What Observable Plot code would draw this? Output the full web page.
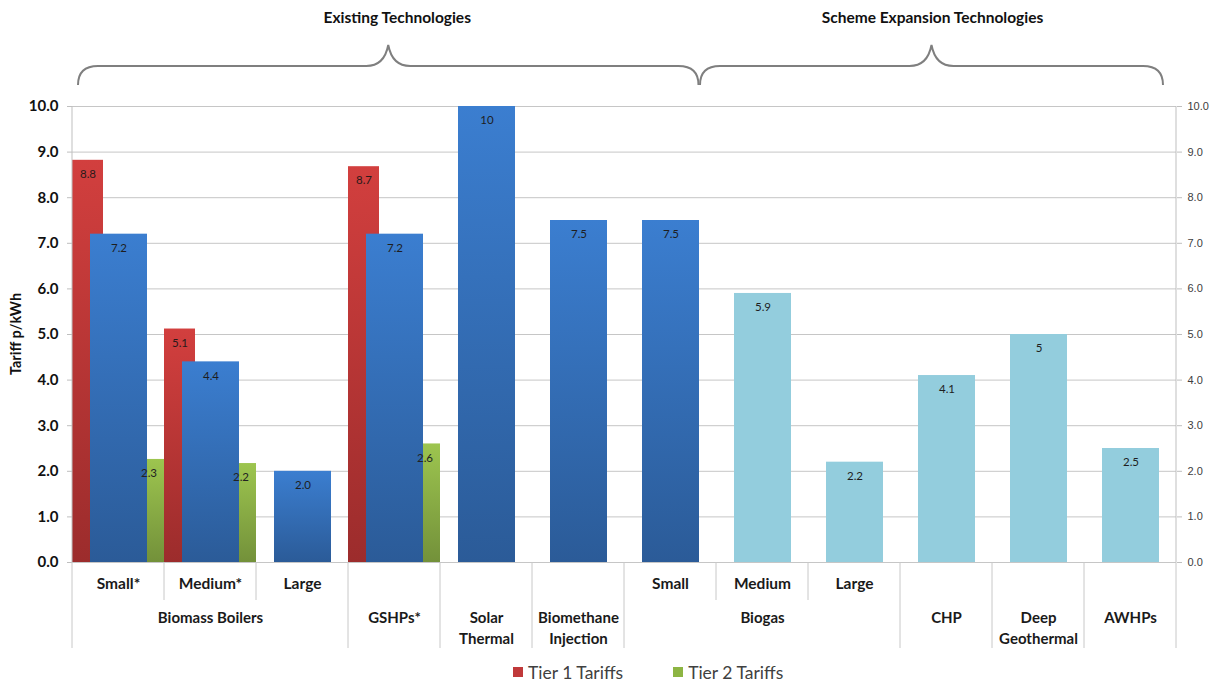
<!DOCTYPE html>
<html><head><meta charset="utf-8">
<script src="https://cdn.jsdelivr.net/npm/d3@7"></script>
<script src="https://cdn.jsdelivr.net/npm/@observablehq/plot@0.6"></script>
<style>
html,body{margin:0;padding:0;background:#fff;}
#wrap{position:relative;width:1215px;height:682px;font-family:Lato,"Open Sans",sans-serif;overflow:hidden;}
#legend{position:absolute;top:660px;left:513px;height:24px;display:flex;gap:50px;font-size:17.5px;color:#404040;}
.li{display:flex;align-items:center;}
.sw{width:10px;height:10px;margin-right:5px;}
</style></head><body>
<div id="wrap"><div id="chart"></div><div id="legend"></div></div>
<script>
const categories = ["Small*","Medium*","Large","GSHPs*","Solar Thermal","Biomethane Injection","Small","Medium","Large","CHP","Deep Geothermal","AWHPs"];
const subLabels = ["Small*","Medium*","Large","","","","Small","Medium","Large","","",""];
const groups = ["Biomass Boilers","Biomass Boilers","Biomass Boilers","GSHPs*","Solar\nThermal","Biomethane\nInjection","Biogas","Biogas","Biogas","CHP","Deep\nGeothermal","AWHPs"];
const schemes = ["existing","existing","existing","existing","existing","existing","existing","expansion","expansion","expansion","expansion","expansion"];
const tariffs = [7.2, 4.4, 2.0, 7.2, 10, 7.5, 7.5, 5.9, 2.2, 4.1, 5, 2.5];
const tariffLabels = ["7.2","4.4","2.0","7.2","10","7.5","7.5","5.9","2.2","4.1","5","2.5"];
const tier1 = [8.82, 5.12, null, 8.68, null, null, null, null, null, null, null, null];
const tier1Labels = ["8.8","5.1","","8.7","","","","","","","",""];
const tier2 = [2.26, 2.17, null, 2.6, null, null, null, null, null, null, null, null];
const tier2Labels = ["2.3","2.2","","2.6","","","","","","","",""];
const yTicks = [0,1,2,3,4,5,6,7,8,9,10];
const groupTitles = ["Existing Technologies","Scheme Expansion Technologies"];
const legendItems = [["Tier 1 Tariffs","#c0393a"],["Tier 2 Tariffs","#8db543"]];

const rows = categories.map((c,i)=>({i, cat:c, sub:subLabels[i], group:groups[i], scheme:schemes[i],
  tariff:tariffs[i], tariffLabel:tariffLabels[i], tier1:tier1[i], tier1Label:tier1Labels[i], tier2:tier2[i], tier2Label:tier2Labels[i]}));

// group label rows (placed at middle category of each group)
const groupRows = [];
{
  let start = 0;
  for (let i = 1; i <= groups.length; i++) {
    if (i === groups.length || groups[i] !== groups[start]) {
      const mid = start + Math.floor((i - start) / 2);
      groupRows.push({i: mid, label: groups[start], start, end: i});
      start = i;
    }
  }
}

const W = 1215, H = 655;
const font = "Lato, 'Open Sans', sans-serif";
const plot = Plot.plot({
  width: W, height: H,
  marginTop: 106, marginBottom: H - 562, marginLeft: 72, marginRight: W - 1176,
  style: {fontFamily: font, background: "#fff", overflow: "visible"},
  x: {domain: d3.range(categories.length), padding: 0, axis: null},
  y: {domain: [0, 10], axis: null},
  marks: [
    Plot.gridY(yTicks, {stroke: "#c6c6c6", strokeOpacity: 1}),
    Plot.barY(rows.filter(d => d.tier1 != null), {x: "i", y: "tier1", fill: "url(#gRed)", insetLeft: 0, insetRight: 61}),
    Plot.barY(rows.filter(d => d.tier2 != null), {x: "i", y: "tier2", fill: "url(#gGreen)", insetLeft: 61, insetRight: 0}),
    Plot.barY(rows.filter(d => d.scheme === "existing"), {x: "i", y: "tariff", fill: "url(#gBlue)", insetLeft: 18, insetRight: 17}),
    Plot.barY(rows.filter(d => d.scheme === "expansion"), {x: "i", y: "tariff", fill: "#93cddd", insetLeft: 18, insetRight: 17}),
    Plot.text(rows.filter(d => d.tier1 != null), {x: "i", y: "tier1", text: "tier1Label", dy: 14, dx: -30.5, fontSize: 11.5, fill: "#2a1a1a"}),
    Plot.text(rows.filter(d => d.tier2 != null), {x: "i", y: "tier2", text: "tier2Label", dy: 14, dx: 30.5, fontSize: 11.5, fill: "#222"}),
    Plot.text(rows, {x: "i", y: "tariff", text: "tariffLabel", dy: 14, dx: 0.5, fontSize: 11.5, fill: "#1e1e1e"}),
    Plot.axisY(yTicks, {anchor: "left", tickSize: 5, tickPadding: 9, tickFormat: d3.format(".1f"), fontSize: 15, fontWeight: "bold", label: null, stroke: "#bfbfbf", fill: "#111"}),
    Plot.axisY(yTicks, {anchor: "right", tickSize: 5, tickPadding: 6, tickFormat: d3.format(".1f"), fontSize: 11, label: null, stroke: "#bfbfbf", fill: "#404040", fontFamily: "'Liberation Sans', sans-serif"}),
    Plot.text(rows.filter(d => d.sub), {x: "i", text: "sub", frameAnchor: "bottom", dy: 26, fontSize: 15.5, fontWeight: "bold", fill: "#1a1a1a"}),
    Plot.text(groupRows, {x: "i", text: "label", frameAnchor: "bottom", lineAnchor: "top", dy: 46, lineHeight: 1.38, fontSize: 15, fontWeight: "bold", fill: "#1a1a1a"})
  ]
});
document.getElementById("chart").appendChild(plot);

const svg = d3.select(plot);
const defs = svg.insert("defs", ":first-child");
function grad(id, top, bottom) {
  const g = defs.append("linearGradient").attr("id", id).attr("x1", 0).attr("y1", 0).attr("x2", 0).attr("y2", 1);
  g.append("stop").attr("offset", "0%").attr("stop-color", top);
  g.append("stop").attr("offset", "100%").attr("stop-color", bottom);
}
grad("gBlue", "#3b7ed0", "#2b5b98");
grad("gRed", "#d23f3e", "#9c2c2c");
grad("gGreen", "#9dc54f", "#73913a");

const xs = plot.scale("x"), ys = plot.scale("y");
const bw = xs.bandwidth;
const y0 = ys.apply(0), yTop = ys.apply(10);
const xL = xs.apply(0), xR = xs.apply(categories.length - 1) + bw;

// axis lines
svg.append("line").attr("x1", xL).attr("x2", xL).attr("y1", yTop).attr("y2", y0).attr("stroke", "#bfbfbf");
svg.append("line").attr("x1", xR).attr("x2", xR).attr("y1", yTop).attr("y2", y0).attr("stroke", "#bfbfbf");

// category dividers
for (let b = 0; b <= categories.length; b++) {
  const x = b < categories.length ? xs.apply(b) : xR;
  const long = b === 0 || b === categories.length || groups[b] !== groups[b - 1];
  svg.append("line").attr("x1", x).attr("x2", x).attr("y1", y0).attr("y2", y0 + (long ? 86 : 38)).attr("stroke", "#c8c8c8");
}

// y title
svg.append("text").attr("transform", `translate(17,${(y0 + yTop) / 2}) rotate(-90)`)
  .attr("text-anchor", "middle").attr("dominant-baseline", "middle")
  .attr("font-family", font).attr("font-size", 14.5).attr("font-weight", "bold").attr("fill", "#111").text("Tariff p/kWh");

// braces
function brace(x0, x1, titleDx, title) {
  const m = (x0 + x1) / 2, yb = 85, yh = 66, yt = 45, r = 20;
  const p = `M${x0},${yb} Q${x0},${yh} ${x0 + r},${yh} H${m - 22} Q${m - 4},${yh} ${m},${yt} Q${m + 4},${yh} ${m + 22},${yh} H${x1 - r} Q${x1},${yh} ${x1},${yb}`;
  svg.append("path").attr("d", p).attr("fill", "none").attr("stroke", "#7f7f7f").attr("stroke-width", 2);
  svg.append("text").attr("x", m + titleDx).attr("y", 19).attr("text-anchor", "middle").attr("dominant-baseline", "middle")
    .attr("font-family", font).attr("font-size", 15.5).attr("font-weight", "bold").attr("fill", "#111").text(title);
}
brace(xL + 6, xs.apply(6) + bw - 17.5, 9, groupTitles[0]);
brace(xs.apply(7) - 16, xs.apply(11) + bw - 13, 1, groupTitles[1]);

// legend
const leg = d3.select("#legend");
legendItems.forEach(([t, c]) => {
  const it = leg.append("div").attr("class", "li");
  it.append("div").attr("class", "sw").style("background", c);
  it.append("span").text(t);
});
</script>
</body></html>
